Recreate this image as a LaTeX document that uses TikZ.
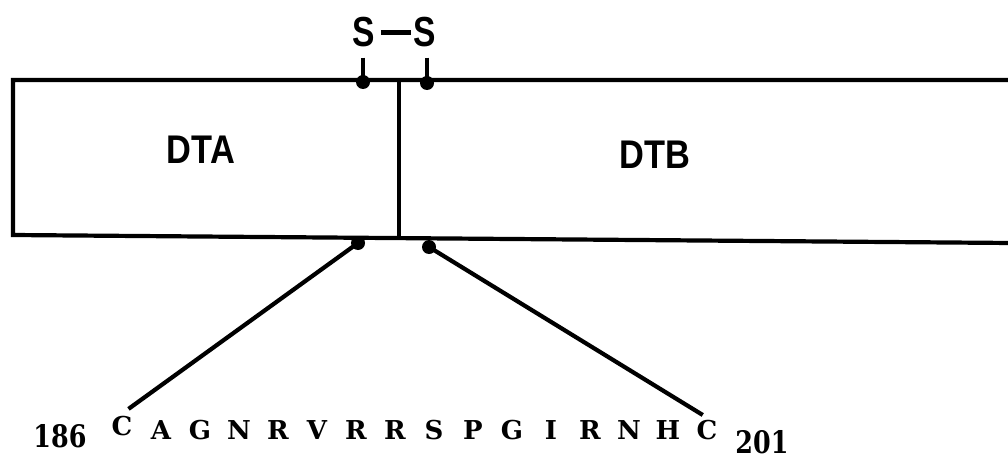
\documentclass[tikz,border=0pt]{standalone}
\usepackage{fontspec}
\setmainfont{Liberation Serif}
\newfontfamily\lsans{Liberation Sans}
\newfontfamily\seqfont{DejaVu Serif}
\begin{document}
\begin{tikzpicture}[x=1pt,y=-1pt, line width=4.2pt,
  dotnode/.style={circle,fill,inner sep=0pt,minimum size=14pt},
  domlbl/.style={font=\lsans\bfseries\fontsize{40}{40}\selectfont, inner sep=0pt, anchor=base, xscale=0.86},
  sslbl/.style={font=\lsans\bfseries\fontsize{42}{42}\selectfont, inner sep=0pt, anchor=base, xscale=0.8},
  res/.style={font=\seqfont\bfseries\fontsize{26}{26}\selectfont, inner sep=0pt, anchor=base},
  numlbl/.style={font=\seqfont\bfseries\fontsize{31}{31}\selectfont, inner sep=0pt, anchor=base, xscale=0.82, text depth=0pt}]
\useasboundingbox (0,0) rectangle (1008,460);
% box
\coordinate (tr) at (1012,80);
\coordinate (tl) at (13,80);
\coordinate (bl) at (13,235);
\coordinate (br) at (1012,243);
\draw[line join=miter] (tr) -- (tl) -- (bl) -- (br);
\coordinate (divt) at (399,80);
\coordinate (divb) at (399,238);
\draw (divt) -- (divb);
% labels
\node[domlbl] (dta) at (201,163) {DTA};
\node[domlbl] (dtb) at (655,168) {DTB};
% disulfide
\node[sslbl] (s1) at (364,47) {S};
\node[sslbl] (s2) at (425,47) {S};
\draw[shorten <=4pt, shorten >=1pt] (s1.east) -- (s2.west);
\node[dotnode] (d1) at (363,82) {};
\node[dotnode] (d2) at (427,83) {};
\draw[shorten <=8pt] (d1 |- s1.south) -- (d1.center);
\draw[shorten <=8pt] (d2 |- s2.south) -- (d2.center);
% lower dots
\node[dotnode] (d3) at (358,243) {};
\node[dotnode] (d4) at (429,247) {};
% sequence
\node[res] (r1) at (122,435) {C};
\foreach \l [count=\i from 2] in {A,G,N,R,V,R,R,S,P,G,I,R,N,H,C}{
  \node[res] (r\i) at ({122+39*(\i-1)},439) {\l};
}
\node[numlbl] (n186) at (60,447) {186};
\node[numlbl] (n201) at (762,453) {201};
\draw[shorten >=8pt] (d3.center) -- (r1.north);
\draw[shorten >=5pt] (d4.center) -- (r16.north);
\end{tikzpicture}
\end{document}
